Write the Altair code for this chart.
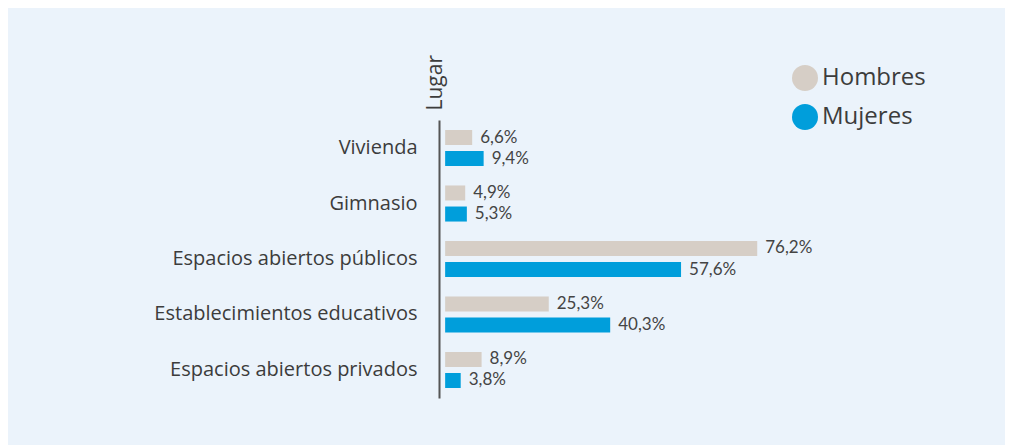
import altair as alt
import pandas as pd

lugares = ["Vivienda", "Gimnasio", "Espacios abiertos públicos",
           "Establecimientos educativos", "Espacios abiertos privados"]
hombres = [6.6, 4.9, 76.2, 25.3, 8.9]
mujeres = [9.4, 5.3, 57.6, 40.3, 3.8]
sexos = ["Hombres", "Mujeres"]
colores = ["#D6CEC6", "#009EDB"]

rows = []
for lug, h, m in zip(lugares, hombres, mujeres):
    for s, v in zip(sexos, [h, m]):
        rows.append({"Lugar": lug, "Sexo": s, "Valor": v,
                     "Etiqueta": f"{v:.1f}%".replace(".", ",")})
df = pd.DataFrame(rows)

font = "Open Sans"

base = alt.Chart(df).encode(
    y=alt.Y("Lugar:N", sort=lugares,
            scale=alt.Scale(paddingInner=0.35, paddingOuter=0.18),
            axis=alt.Axis(title="Lugar", ticks=False, domain=True,
                          domainColor="#555555", domainWidth=2,
                          labelPadding=22, labelFontSize=20, labelFont=font,
                          labelColor="#3c3c3c", labelLimit=0,
                          titleAngle=270, titleX=-4,
                          titleY=-10, titleAlign="left", titleBaseline="middle",
                          titleFontWeight="normal", titleFontSize=21,
                          titleFont=font, titleColor="#3c3c3c")),
    yOffset=alt.YOffset("Sexo:N", sort=sexos,
                        scale=alt.Scale(paddingInner=0.286)),
    x=alt.X("Valor:Q", scale=alt.Scale(domain=[-1.5, 115.7], nice=False),
            axis=None),
)

bars = base.mark_bar().encode(
    x2=alt.datum(0),
    color=alt.Color("Sexo:N", sort=sexos,
                    scale=alt.Scale(domain=sexos, range=colores),
                    legend=alt.Legend(title=None, orient="none", legendX=353,
                                      legendY=-55, symbolType="circle",
                                      symbolSize=676, symbolStrokeWidth=0,
                                      symbolOpacity=1,
                                      labelFontSize=24, labelFont=font,
                                      labelColor="#3c3c3c", rowPadding=13,
                                      labelOffset=4)),
)

text = base.mark_text(align="left", baseline="middle", dx=8,
                      fontSize=17, font="Lato", color="#444444").encode(
    text="Etiqueta:N"
)

chart = alt.layer(bars, text).properties(
    width=480, height=278,
    background="#EBF3FB",
    padding={"left": 431, "top": 112, "right": 86, "bottom": 47},
    autosize=alt.AutoSizeParams(type="none"),
).configure_view(stroke=None)

chart.save("out.html", embed_options={"renderer": "svg", "actions": False})
